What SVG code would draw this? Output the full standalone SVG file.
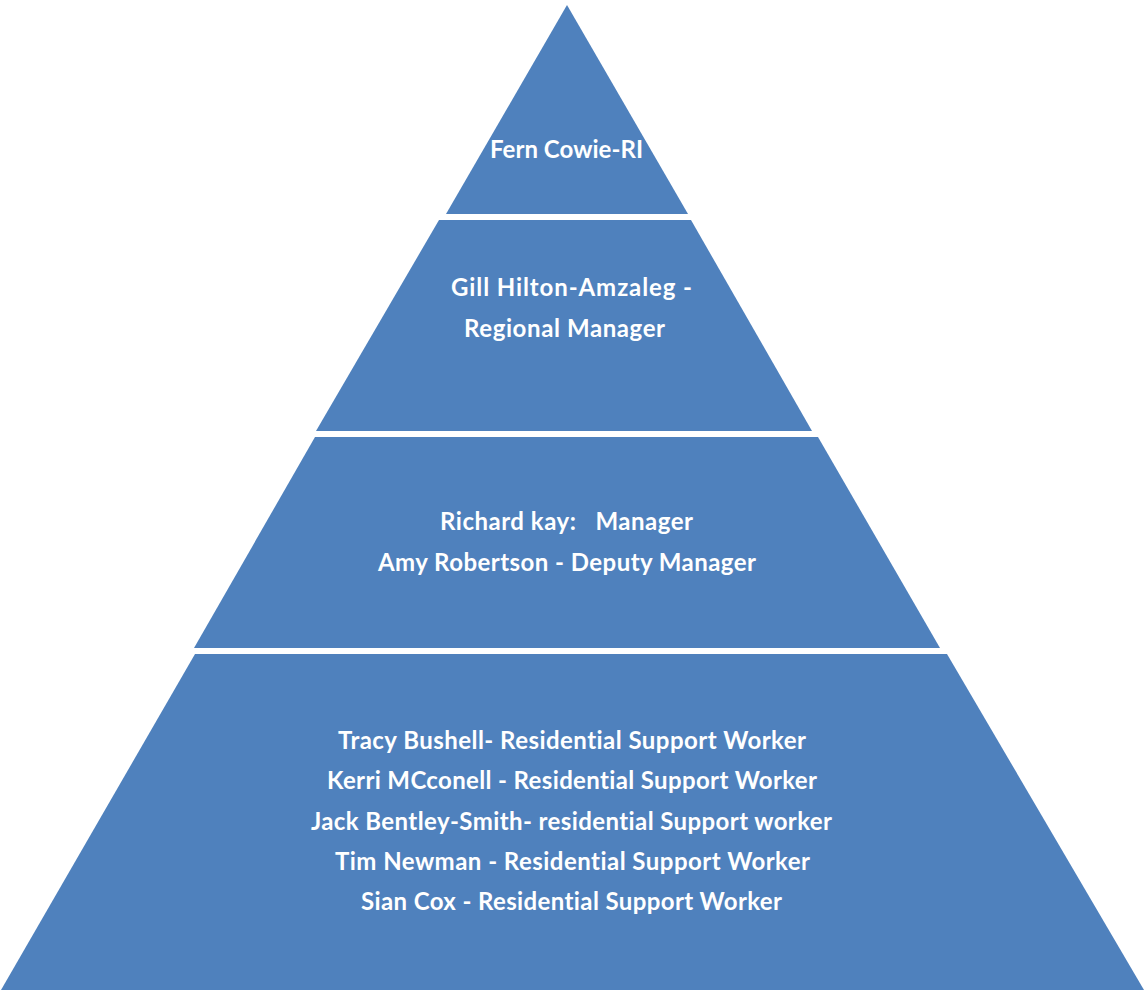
<svg xmlns="http://www.w3.org/2000/svg" width="1144" height="990" viewBox="0 0 1144 990">
  <style>
    .tier { fill: #4F81BD; }
    .label { fill: #FFFFFF; font-family: Lato, "Open Sans", "Liberation Sans", sans-serif; font-weight: 700; font-size: 24px; text-anchor: middle; font-variant-ligatures: none; }
  </style>
  <rect width="1144" height="990" fill="#FFFFFF"/>

  <!-- Top tier -->
  <g id="tier-ri">
    <polygon class="tier" points="567,5 688,214 446,214"/>
    <text class="label" x="566.5" y="158" textLength="153">Fern Cowie-RI</text>
  </g>

  <!-- Second tier -->
  <g id="tier-regional">
    <polygon class="tier" points="439,220 691,220 812,431 316,431"/>
    <text class="label" x="571.5" y="296" textLength="241">Gill Hilton-Amzaleg -</text>
    <text class="label" x="564.5" y="337" textLength="201">Regional Manager</text>
  </g>

  <!-- Third tier -->
  <g id="tier-management">
    <polygon class="tier" points="315,437 818,437 940,648 194,648"/>
    <text class="label" x="566.5" y="530" textLength="253" xml:space="preserve">Richard kay:   Manager</text>
    <text class="label" x="567" y="571" textLength="378">Amy Robertson - Deputy Manager</text>
  </g>

  <!-- Base tier -->
  <g id="tier-support">
    <polygon class="tier" points="195,654 947,654 1144,990 1,990"/>
    <text class="label" x="572" y="749" textLength="468">Tracy Bushell- Residential Support Worker</text>
    <text class="label" x="572" y="789" textLength="490">Kerri MCconell - Residential Support Worker</text>
    <text class="label" x="571.5" y="830" textLength="521">Jack Bentley-Smith- residential Support worker</text>
    <text class="label" x="572.5" y="870" textLength="475">Tim Newman - Residential Support Worker</text>
    <text class="label" x="571.5" y="910" textLength="421">Sian Cox - Residential Support Worker</text>
  </g>
</svg>
